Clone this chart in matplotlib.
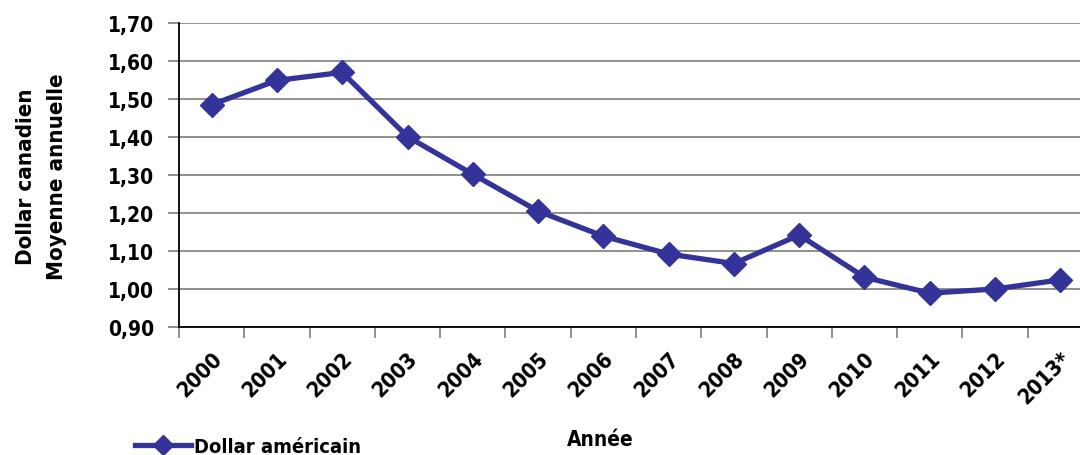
import matplotlib.pyplot as plt
from matplotlib.lines import Line2D
from matplotlib.transforms import ScaledTranslation

years = ["2000", "2001", "2002", "2003", "2004", "2005", "2006",
         "2007", "2008", "2009", "2010", "2011", "2012", "2013*"]
usd = [1.485, 1.549, 1.570, 1.401, 1.302, 1.205, 1.139,
       1.092, 1.067, 1.142, 1.031, 0.989, 1.000, 1.024]
yticks = [0.90, 1.00, 1.10, 1.20, 1.30, 1.40, 1.50, 1.60, 1.70]

FONT = ["DejaVu Sans", "Liberation Sans"]
plt.rcParams["font.family"] = FONT
plt.rcParams["font.stretch"] = "condensed"
line_col = "#333399"
grid_col = "#8f8f8f"

fig = plt.figure(figsize=(10.8, 4.56), dpi=100)
# right edge intentionally past the figure border, as in the source
ax = fig.add_axes([179/1080, 128/456, 914/1080, 304/456])

x = list(range(len(years)))
ax.plot(x, usd, color=line_col, lw=3.8, marker="D", ms=12, zorder=3, clip_on=False)

ax.set_xlim(-0.5, len(years) - 0.5)
ax.set_ylim(0.9, 1.7)
ax.set_yticks(yticks)
ax.set_yticklabels([f"{v:.2f}".replace(".", ",") for v in yticks],
                   fontsize=15, fontweight="bold")
ax.yaxis.grid(True, color=grid_col, lw=1.4)
ax.set_axisbelow(True)

ax.set_xticks([i - 0.5 for i in x], minor=False)
ax.set_xticklabels([])
ax.set_xticks(x, minor=True)
labs = ax.set_xticklabels(years, minor=True, rotation=45, ha="right", va="top",
                          rotation_mode="anchor", fontsize=15.5, fontweight="bold")
shift = ScaledTranslation(4/100, 0, fig.dpi_scale_trans)
for t in labs:
    t.set_transform(t.get_transform() + shift)
ax.tick_params(axis="x", which="major", length=8, color=grid_col, width=1.4)
ax.tick_params(axis="x", which="minor", length=0, pad=15)
ax.tick_params(axis="y", length=8, color=grid_col, width=1.4, pad=10)

for s in ("top", "right"):
    ax.spines[s].set_visible(False)
for s in ("left", "bottom"):
    ax.spines[s].set_color("black")
    ax.spines[s].set_linewidth(1.3)

fig.text(26/1080, 1 - 177/456, "Dollar canadien", rotation=90, ha="center", va="center",
         fontsize=16, fontweight="bold")
fig.text(57/1080, 1 - 177/456, "Moyenne annuelle", rotation=90, ha="center", va="center",
         fontsize=16, fontweight="bold")
fig.text(600/1080, 1 - 440/456, "Année", ha="center", va="center",
         fontsize=15, fontweight="bold")

handle = Line2D([], [], color=line_col, lw=3.8, marker="D", ms=10)
fig.legend([handle], ["Dollar américain"], loc="center left",
           bbox_to_anchor=(135/1080, 1 - 448/456), frameon=False,
           borderpad=0, borderaxespad=0, handlelength=2.8, handletextpad=0.15,
           prop={"size": 14.5, "weight": "bold", "family": FONT, "stretch": "condensed"})

fig.savefig("out.png", dpi=100)
